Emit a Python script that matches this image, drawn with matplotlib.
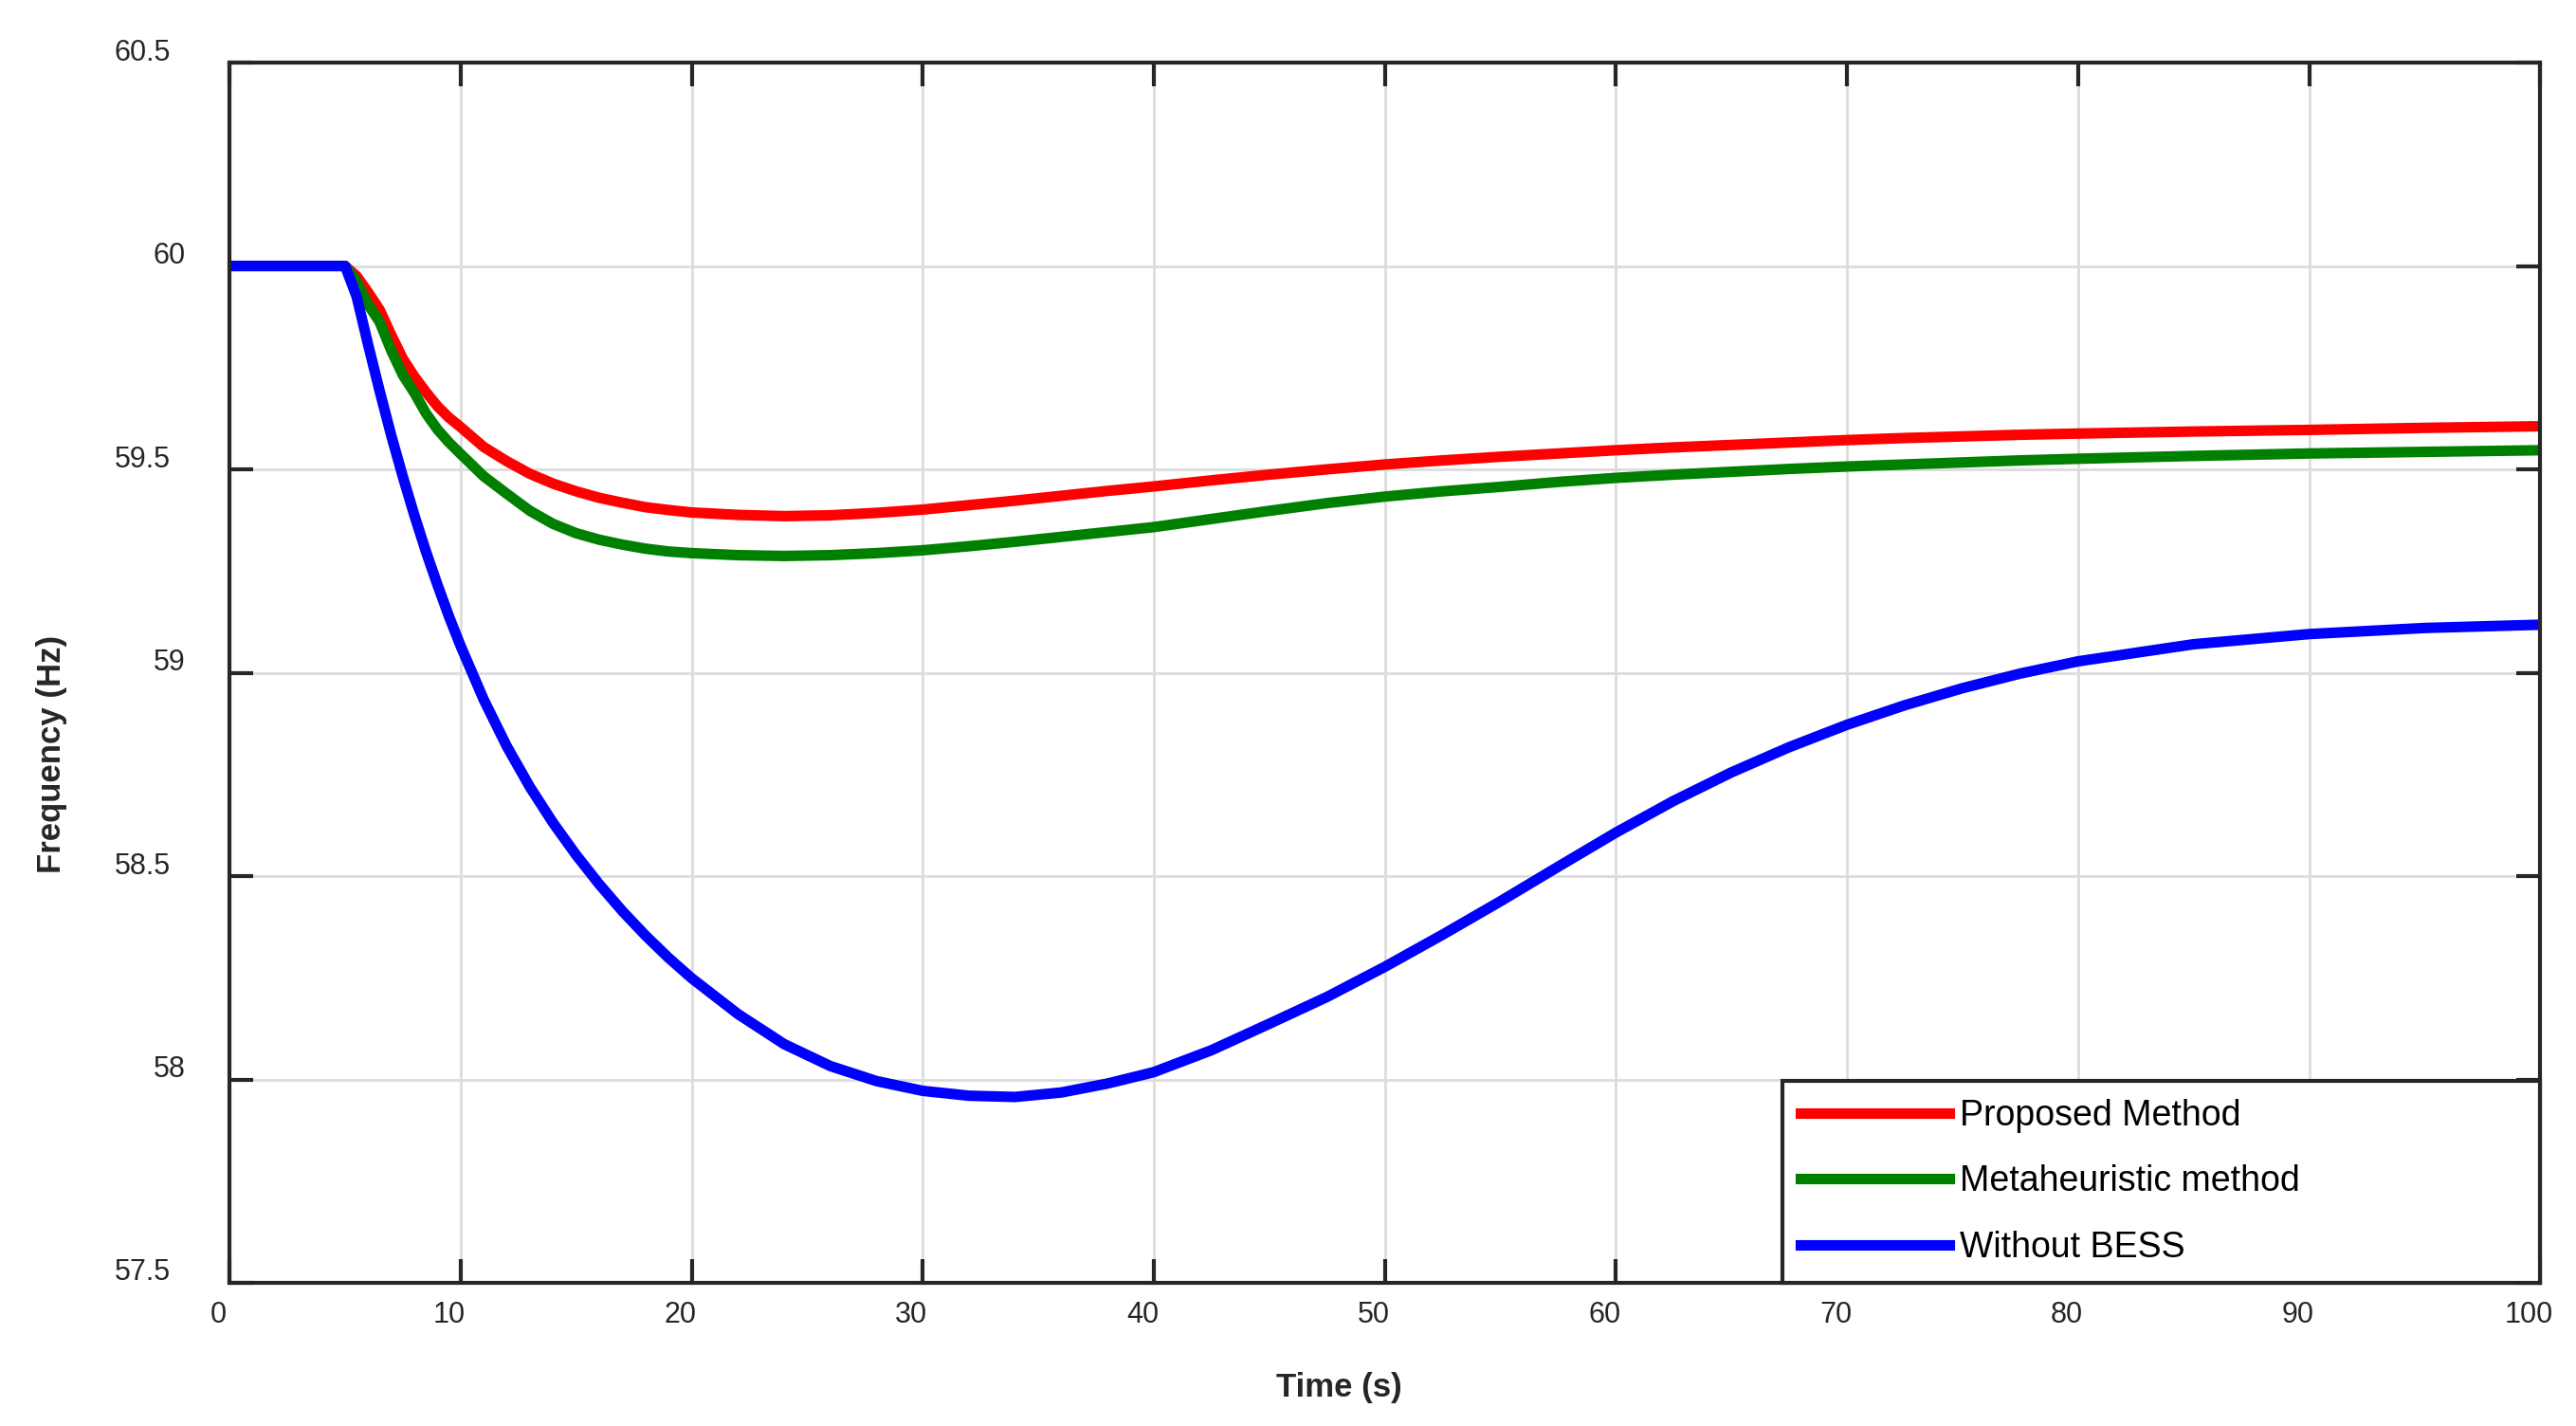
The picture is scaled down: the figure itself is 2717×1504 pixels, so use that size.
import matplotlib
matplotlib.use('Agg')
import matplotlib.pyplot as plt
import matplotlib.transforms as mtransforms

plt.rcParams['font.family'] = ['Liberation Sans', 'DejaVu Sans']

# Time axis (s) shared by all three traces
time_s = [0, 5, 5.5, 6, 6.5, 7, 7.5, 8, 8.5, 9, 9.5, 10, 11, 12, 13, 14, 15, 16, 17, 18,
          19, 20, 22, 24, 26, 28, 30, 32, 34, 36, 38, 40, 42.5, 45, 47.5, 50, 52.5, 55,
          57.5, 60, 62.5, 65, 67.5, 70, 72.5, 75, 77.5, 80, 85, 90, 95, 100]

# Frequency (Hz)
freq_proposed = [60, 60, 59.975, 59.935, 59.892, 59.83, 59.772, 59.728, 59.69, 59.655,
                 59.627, 59.604, 59.555, 59.52, 59.489, 59.465, 59.446, 59.43, 59.418,
                 59.407, 59.40, 59.394, 59.388, 59.385, 59.387, 59.393, 59.401, 59.412,
                 59.423, 59.435, 59.447, 59.458, 59.473, 59.487, 59.50, 59.512, 59.522,
                 59.531, 59.539, 59.547, 59.554, 59.56, 59.566, 59.572, 59.577, 59.581,
                 59.585, 59.588, 59.593, 59.597, 59.602, 59.606]
freq_meta = [60, 60, 59.962, 59.905, 59.862, 59.792, 59.732, 59.688, 59.638, 59.598, 59.566,
             59.538, 59.483, 59.44, 59.398, 59.366, 59.343, 59.327, 59.315, 59.305,
             59.298, 59.294, 59.289, 59.287, 59.289, 59.294, 59.301, 59.311, 59.322,
             59.334, 59.346, 59.358, 59.378, 59.398, 59.417, 59.433, 59.446, 59.457,
             59.469, 59.479, 59.487, 59.494, 59.501, 59.507, 59.512, 59.517, 59.522,
             59.526, 59.533, 59.539, 59.543, 59.547]
freq_no_bess = [60, 60, 59.925, 59.806, 59.692, 59.583, 59.482, 59.387, 59.298, 59.216,
                59.138, 59.066, 58.934, 58.819, 58.719, 58.631, 58.552, 58.48, 58.414,
                58.354, 58.299, 58.249, 58.161, 58.087, 58.033, 57.996, 57.972, 57.96,
                57.957, 57.968, 57.99, 58.018, 58.072, 58.137, 58.203, 58.277, 58.356,
                58.438, 58.523, 58.607, 58.685, 58.755, 58.817, 58.872, 58.92, 58.962,
                58.998, 59.028, 59.07, 59.095, 59.11, 59.118]

x_ticks = [0, 10, 20, 30, 40, 50, 60, 70, 80, 90, 100]
y_ticks = [57.5, 58, 58.5, 59, 59.5, 60, 60.5]
y_tick_labels = ['57.5', '58', '58.5', '59', '59.5', '60', '60.5']

fig = plt.figure(figsize=(27.17, 15.04), dpi=100)
ax = fig.add_axes([0.0891, 0.1004, 0.897, 0.8557])

ax.plot(time_s, freq_proposed, color='#ff0000', linewidth=8, label='Proposed Method')
ax.plot(time_s, freq_meta, color='#008000', linewidth=8, label='Metaheuristic method')
ax.plot(time_s, freq_no_bess, color='#0000ff', linewidth=8, label='Without BESS')

ax.set_xlim(0, 100)
ax.set_ylim(57.5, 60.5)
ax.set_xticks(x_ticks)
ax.set_yticks(y_ticks)
ax.set_yticklabels(y_tick_labels)

ax.grid(True, color='#dcdcdc', linewidth=2)
ax.set_axisbelow(True)
for sp in ax.spines.values():
    sp.set_linewidth(3)
    sp.set_color('#262626')
ax.tick_params(direction='in', length=18, width=3, colors='#262626',
               top=True, right=True, labelsize=22)
ax.tick_params(axis='y', pad=45)
ax.tick_params(axis='x', pad=14)

# matlab export puts the labels slightly off their ticks
for lab in ax.get_yticklabels():
    dx = 0.16 if len(lab.get_text()) == 2 else 0.0
    lab.set_transform(lab.get_transform() + mtransforms.ScaledTranslation(dx, 0.14, fig.dpi_scale_trans))
for lab in ax.get_xticklabels():
    lab.set_transform(lab.get_transform() + mtransforms.ScaledTranslation(-0.12, 0, fig.dpi_scale_trans))

ax.set_xlabel('Time (s)', fontsize=25, fontweight='bold', color='#262626')
ax.set_ylabel('Frequency (Hz)', fontsize=25, fontweight='bold', color='#262626')
ax.xaxis.set_label_coords(0.480, -0.0855)
ax.xaxis.label.set_va('center')
ax.yaxis.set_label_coords(-0.0771, 0.4336)
ax.yaxis.label.set_va('center')

leg = ax.legend(loc='lower left', bbox_to_anchor=(0.672, 0, 0.328, 0.170), mode='expand',
                borderaxespad=0, fancybox=False, framealpha=1, edgecolor='#262626',
                handlelength=4.2, handletextpad=0.3, labelspacing=0.9, borderpad=0.5,
                prop={'size': 27})
leg.get_frame().set_linewidth(3)

fig.savefig('out.png', dpi=100)
